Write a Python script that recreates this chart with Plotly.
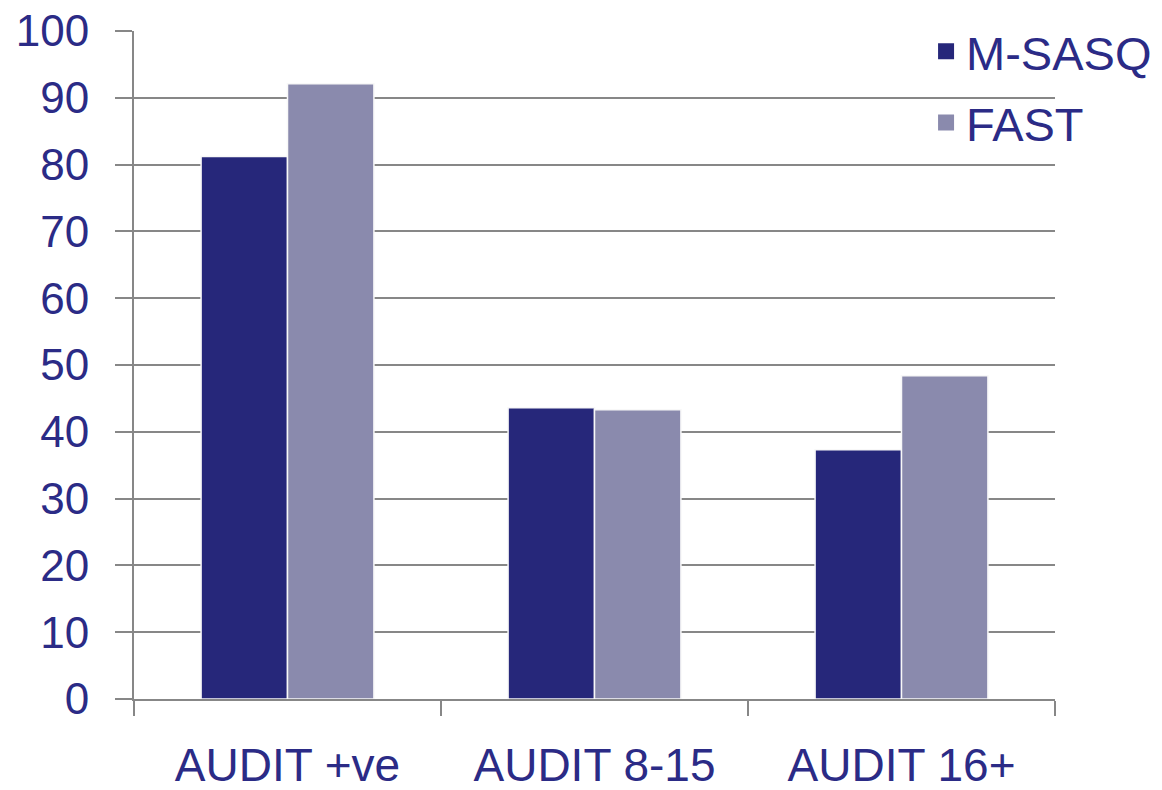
import plotly.graph_objects as go

categories = ["AUDIT +ve", "AUDIT 8-15", "AUDIT 16+"]
m_sasq = [81.2, 43.6, 37.3]
fast = [92.1, 43.3, 48.4]
series_names = ["M-SASQ", "FAST"]
y_ticks = [0, 10, 20, 30, 40, 50, 60, 70, 80, 90, 100]

C_DARK = "#26277A"
C_LIGHT = "#8A8AAD"
TEXT = "#2B2B86"
GRID = "#878787"
FONT = "Liberation Sans, Arial, sans-serif"

fig = go.Figure()
for name, vals, col in [(series_names[0], m_sasq, C_DARK), (series_names[1], fast, C_LIGHT)]:
    fig.add_trace(go.Bar(x=categories, y=vals, name=name, showlegend=False,
                         marker=dict(color=col, line=dict(color="#F8F8F8", width=1.5))))
    fig.add_trace(go.Scatter(x=[None], y=[None], mode="markers", name=name, legendgroup=name,
                             marker=dict(symbol="square", size=16, color=col)))

fig.update_layout(
    width=1162, height=790,
    margin=dict(l=134, r=107, t=31, b=91, autoexpand=False),
    paper_bgcolor="white", plot_bgcolor="white",
    barmode="group", bargap=0.437, bargroupgap=0.0,
    font=dict(family=FONT, color=TEXT, size=44),
    showlegend=True,
    legend=dict(x=0.86, y=1.025, xanchor="left", yanchor="top", tracegroupgap=7,
                bgcolor="rgba(0,0,0,0)", font=dict(size=47, color=TEXT),
                itemclick=False),
)
fig.update_yaxes(range=[0, 100], tickvals=y_ticks, showgrid=True, gridcolor=GRID, gridwidth=2,
                 showline=True, linecolor=GRID, linewidth=2, ticks="outside", ticklen=17,
                 tickcolor=GRID, tickwidth=2, zeroline=False, automargin=False,
                 ticklabelstandoff=17, ticklabeloverflow="allow",
                 tickfont=dict(size=44, color=TEXT, family=FONT))
fig.update_xaxes(showline=True, linecolor=GRID, linewidth=2, ticks="outside", ticklen=15,
                 tickcolor=GRID, tickwidth=2, tickson="boundaries", showgrid=False,
                 automargin=False, ticklabelstandoff=25, ticklabeloverflow="allow",
                 tickfont=dict(size=46, color=TEXT, family=FONT))

fig.write_html("out.html", config={"displayModeBar": False},
               post_script="document.body.style.margin='0';")
